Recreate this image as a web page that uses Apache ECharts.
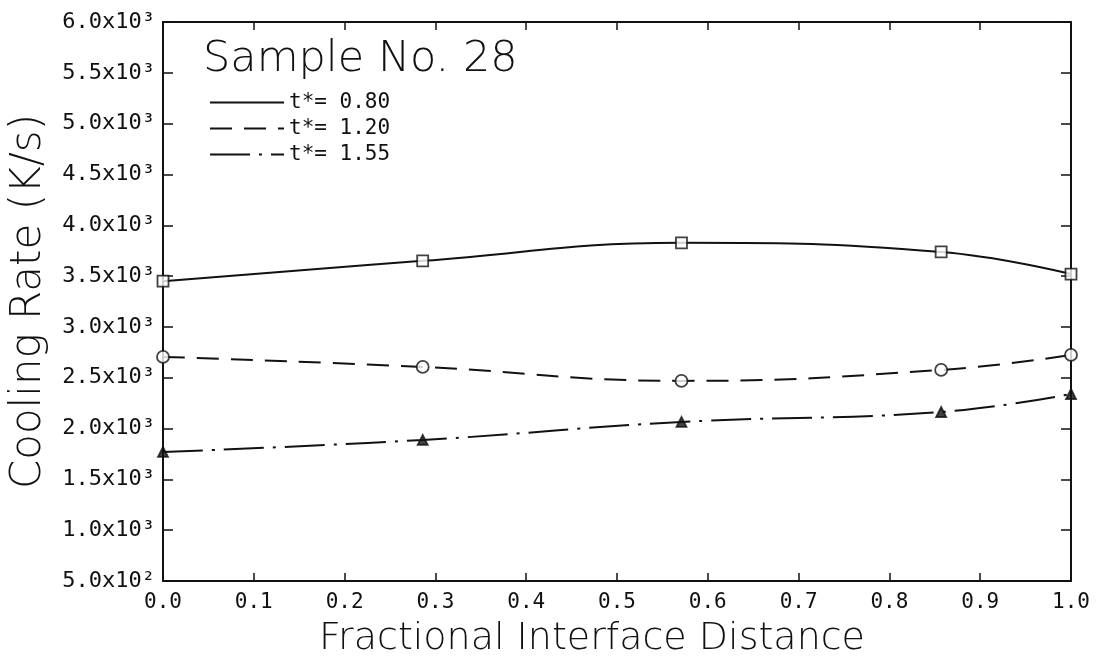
<!DOCTYPE html>
<html>
<head>
<meta charset="utf-8">
<script src="https://cdn.jsdelivr.net/npm/echarts@6/dist/echarts.min.js"></script>
<style>
  html, body { margin: 0; padding: 0; background: #fff; }
  #chart { width: 1098px; height: 658px; }
</style>
</head>
<body>
<div id="chart"></div>
<script>
// fractional positions of the measured points
const xPos = [0, 0.286, 0.571, 0.857, 1.0];
// cooling rate (K/s) for each t*
const rate080 = [3450, 3650, 3827, 3738, 3520];
const rate120 = [2705, 2606, 2469, 2577, 2724];
const rate155 = [1770, 1888, 2065, 2163, 2340];
const seriesNames = ["t*= 0.80", "t*= 1.20", "t*= 1.55"];

const SUP = { "0": "⁰", "1": "¹", "2": "²", "3": "³", "4": "⁴" };
function sciLabel(v) {
  const e = Math.floor(Math.log10(v) + 1e-9);
  const m = v / Math.pow(10, e);
  return m.toFixed(1) + "x10" + String(e).split("").map(c => SUP[c]).join("");
}

function pairs(ys) { return xPos.map((x, i) => [x, ys[i]]); }

const monoFont = "DejaVu Sans Mono";
const sansFont = "DejaVu Sans";
const ink = "#111";

const chart = echarts.init(document.getElementById("chart"), null, { renderer: "canvas" });

function curve(name, ys, dash) {
  return {
    name, type: "line", data: pairs(ys), smooth: 0.45,
    symbol: "none", xAxisIndex: 0, yAxisIndex: 0,
    itemStyle: { color: ink },
    lineStyle: { color: ink, width: 2, type: dash },
    z: 2,
  };
}
function marks(ys, symbol, size, filled) {
  return {
    type: "scatter", data: pairs(ys), symbol, symbolSize: size,
    itemStyle: { color: filled ? ink : "#fff", borderColor: ink, borderWidth: 1.8 },
    z: 3, silent: true,
  };
}

const axisBase = {
  type: "value",
  axisLine: { show: true, onZero: false, lineStyle: { color: ink, width: 2 } },
  splitLine: { show: false },
};

chart.setOption({
  animation: false,
  backgroundColor: "#fff",
  grid: { left: 163, right: 27, top: 22, bottom: 77, outerBoundsMode: "none", containLabel: false },
  title: {
    text: "Sample No. 28", left: 198, top: 33,
    textStyle: { fontFamily: sansFont, fontSize: 43, fontWeight: 200, color: ink },
  },
  legend: {
    data: seriesNames, orient: "vertical", left: 204, top: 87,
    itemWidth: 74, itemHeight: 14, itemGap: 5,
    itemStyle: { opacity: 0 },
    textStyle: { fontFamily: monoFont, fontSize: 21, color: ink },
  },
  xAxis: [
    Object.assign({}, axisBase, {
      min: 0, max: 1, interval: 0.1, position: "bottom",
      axisTick: { inside: true, length: 8, lineStyle: { color: ink, width: 1.5 } },
      axisLabel: { formatter: v => v.toFixed(1), fontFamily: monoFont, fontSize: 21, color: ink, margin: 11 },
      name: "Fractional Interface Distance", nameLocation: "middle", nameGap: 39,
      nameTextStyle: { fontFamily: sansFont, fontSize: 38, fontWeight: 200, color: ink, padding: [0, 50, 0, 0] },
    }),
    Object.assign({}, axisBase, {
      min: 0, max: 1, interval: 0.1, position: "top",
      axisTick: { inside: true, length: 8, lineStyle: { color: ink, width: 1.5 } },
      axisLabel: { show: false },
    }),
  ],
  yAxis: [
    Object.assign({}, axisBase, {
      min: 500, max: 6000, interval: 500, position: "left",
      axisTick: { inside: true, length: 10, lineStyle: { color: ink, width: 1.5 } },
      axisLabel: { formatter: sciLabel, fontFamily: monoFont, fontSize: 22, color: ink, margin: 8 },
      name: "Cooling Rate (K/s)", nameLocation: "middle", nameGap: 113,
      nameTextStyle: { fontFamily: sansFont, fontSize: 42, fontWeight: 200, color: ink },
    }),
    Object.assign({}, axisBase, {
      min: 500, max: 6000, interval: 500, position: "right",
      axisTick: { inside: true, length: 10, lineStyle: { color: ink, width: 1.5 } },
      axisLabel: { show: false },
    }),
  ],
  series: [
    curve(seriesNames[0], rate080, "solid"),
    curve(seriesNames[1], rate120, [22, 12]),
    curve(seriesNames[2], rate155, [40, 9, 3, 9]),
    marks(rate080, "rect", 11, false),
    marks(rate120, "circle", 12, false),
    marks(rate155, "triangle", 10, true),
  ],
});
</script>
</body>
</html>
